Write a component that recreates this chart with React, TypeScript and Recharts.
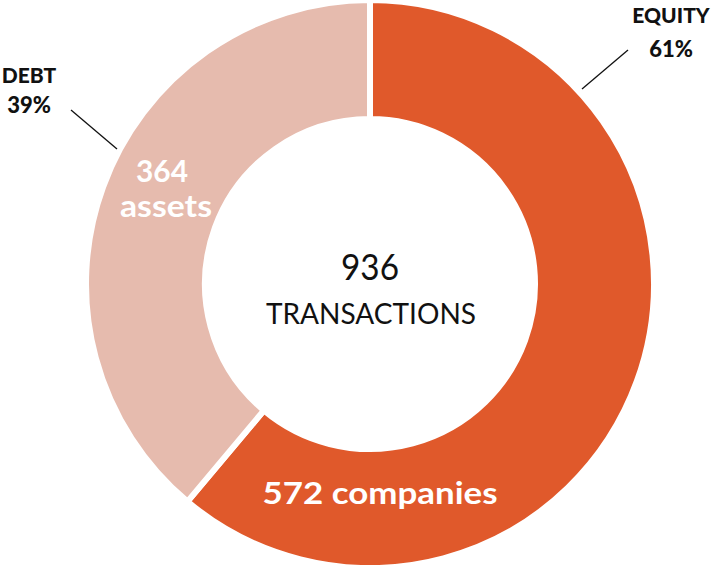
import React from 'react';
import { PieChart, Pie, Cell } from 'recharts';

const categories = ['EQUITY', 'DEBT'];
const values = [572, 364];
const units = ['companies', 'assets'];
const colors = ['#E0592B', '#E6BBAE'];
const centerLabel = 'TRANSACTIONS';

const data = categories.map((c, i) => ({ name: c, value: values[i], unit: units[i] }));
const total = values.reduce((a, b) => a + b, 0);

const W = 715;
const H = 565;
const CX = 370;
const CY = 284;
const FONT = '"Century Gothic", Lato, "Open Sans", sans-serif';

const renderLabel = (props: any) => {
  const { index, value } = props;
  const pct = Math.round((value / total) * 100);
  if (index === 0) {
    return (
      <g key="lbl0">
        <text x={CX} y={280} textAnchor="middle" fontSize={36} fontWeight={400} fill="#111" fontFamily={FONT} textLength={58} lengthAdjust="spacingAndGlyphs">
          {total}
        </text>
        <text x={CX + 1} y={324} textAnchor="middle" fontSize={28} fontWeight={400} fill="#111" fontFamily={FONT} textLength={210} lengthAdjust="spacingAndGlyphs">
          {centerLabel}
        </text>
        <text x={CX + 10} y={504} textAnchor="middle" fontSize={30} fontWeight={700} fill="#fff" fontFamily={FONT} textLength={235} lengthAdjust="spacingAndGlyphs">
          {`${value} ${units[0]}`}
        </text>
        <line x1={582} y1={89} x2={628} y2={50} stroke="#111" strokeWidth={1.3} />
        <text x={671} y={23} textAnchor="middle" fontSize={21} fontWeight={900} fill="#111" fontFamily={FONT}>
          {categories[0]}
        </text>
        <text x={671} y={57} textAnchor="middle" fontSize={22} fontWeight={900} fill="#111" fontFamily={FONT}>
          {`${pct}%`}
        </text>
      </g>
    );
  }
  return (
    <g key="lbl1">
      <text x={162} y={182} textAnchor="middle" fontSize={31} fontWeight={700} fill="#fff" fontFamily={FONT} textLength={52} lengthAdjust="spacingAndGlyphs">
        {value}
      </text>
      <text x={166} y={217} textAnchor="middle" fontSize={31} fontWeight={700} fill="#fff" fontFamily={FONT} textLength={92} lengthAdjust="spacingAndGlyphs">
        {units[1]}
      </text>
      <line x1={117} y1={149} x2={71} y2={110} stroke="#111" strokeWidth={1.3} />
      <text x={29} y={83} textAnchor="middle" fontSize={21} fontWeight={900} fill="#111" fontFamily={FONT}>
        {categories[1]}
      </text>
      <text x={29} y={113} textAnchor="middle" fontSize={22} fontWeight={900} fill="#111" fontFamily={FONT}>
        {`${pct}%`}
      </text>
    </g>
  );
};

export default function App() {
  return (
    <div style={{ position: 'absolute', left: 0, top: 0, width: W, height: H, background: '#fff' }}>
      <PieChart width={W} height={H} margin={{ top: 0, right: 0, bottom: 0, left: 0 }}>
        <Pie
          data={data}
          dataKey="value"
          nameKey="name"
          cx={CX}
          cy={CY}
          innerRadius={165}
          outerRadius={284}
          startAngle={90}
          endAngle={-270}
          stroke="#fff"
          strokeWidth={6}
          label={renderLabel}
          labelLine={false}
          isAnimationActive={false}
        >
          {data.map((d, i) => (
            <Cell key={d.name} fill={colors[i]} />
          ))}
        </Pie>
      </PieChart>
    </div>
  );
}
